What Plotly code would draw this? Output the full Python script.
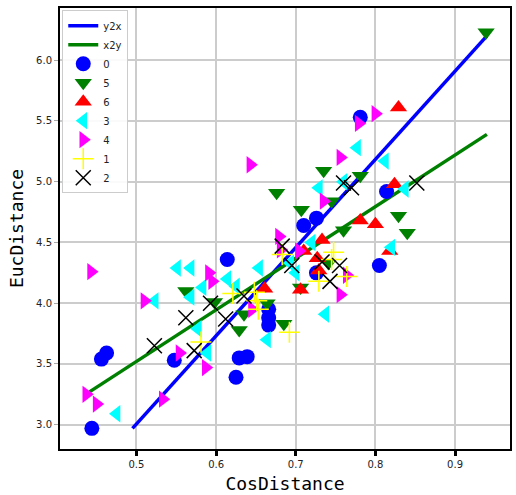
import plotly.graph_objects as go

# regression lines (endpoints)
y2x_x = [0.495, 0.940]
y2x_y = [2.97, 6.20]
x2y_x = [0.441, 0.940]
x2y_y = [3.27, 5.39]

s0_x = [0.444, 0.456, 0.4625, 0.5475, 0.614, 0.625, 0.629, 0.639, 0.666, 0.666, 0.666, 0.710, 0.726, 0.726, 0.781, 0.814, 0.805]
s0_y = [2.97, 3.54, 3.59, 3.53, 4.36, 3.39, 3.55, 3.56, 3.95, 3.88, 3.82, 4.64, 4.70, 4.25, 5.53, 4.92, 4.31]

s5_x = [0.562, 0.598, 0.635, 0.629, 0.664, 0.685, 0.706, 0.741, 0.760, 0.676, 0.707, 0.735, 0.745, 0.781, 0.829, 0.840, 0.939]
s5_y = [4.10, 4.01, 3.91, 3.78, 4.00, 3.83, 4.13, 4.33, 4.60, 4.91, 4.77, 5.09, 4.84, 5.05, 4.72, 4.58, 6.23]

s6_x = [0.661, 0.706, 0.710, 0.727, 0.733, 0.729, 0.781, 0.800, 0.818, 0.824, 0.829]
s6_y = [4.12, 4.11, 4.43, 4.37, 4.52, 4.27, 4.68, 4.65, 4.43, 4.98, 5.61]

s3_x = [0.475, 0.523, 0.551, 0.568, 0.568, 0.583, 0.577, 0.589, 0.614, 0.625, 0.654, 0.664, 0.737, 0.693, 0.700, 0.720, 0.729, 0.760, 0.777, 0.812, 0.837, 0.820]
s3_y = [3.09, 4.02, 4.29, 4.29, 4.05, 4.13, 3.79, 3.59, 4.20, 4.14, 4.29, 3.70, 3.91, 4.33, 4.25, 4.50, 4.95, 5.00, 5.28, 5.17, 4.94, 4.46]

s4_x = [0.443, 0.510, 0.437, 0.450, 0.533, 0.554, 0.587, 0.591, 0.595, 0.645, 0.643, 0.679, 0.681, 0.704, 0.735, 0.756, 0.779, 0.800, 0.756, 0.764]
s4_y = [4.26, 4.02, 3.25, 3.17, 3.21, 3.59, 3.47, 4.25, 4.18, 3.95, 5.14, 4.55, 4.44, 4.43, 4.84, 5.20, 5.48, 5.56, 4.07, 4.23]

s1_x = [0.581, 0.621, 0.648, 0.651, 0.653, 0.692, 0.683, 0.729, 0.7475, 0.764, 0.745]
s1_y = [3.68, 4.08, 4.09, 4.02, 3.95, 3.76, 4.40, 4.18, 4.42, 4.22, 4.36]

s2_x = [0.5225, 0.562, 0.5725, 0.593, 0.612, 0.635, 0.683, 0.695, 0.733, 0.743, 0.755, 0.760, 0.770, 0.852]
s2_y = [3.65, 3.88, 3.61, 4.00, 3.87, 4.06, 4.47, 4.31, 4.34, 4.18, 4.31, 4.99, 4.95, 4.99]

x_ticks = [0.5, 0.6, 0.7, 0.8, 0.9]
y_ticks = [3.0, 3.5, 4.0, 4.5, 5.0, 5.5, 6.0]

fig = go.Figure()
fig.add_trace(go.Scatter(x=y2x_x, y=y2x_y, mode="lines", name="y2x", line=dict(color="blue", width=3.5)))
fig.add_trace(go.Scatter(x=x2y_x, y=x2y_y, mode="lines", name="x2y", line=dict(color="green", width=3.5)))

specs = [
    ("0", s0_x, s0_y, dict(symbol="circle", color="blue", size=15)),
    ("5", s5_x, s5_y, dict(symbol="triangle-down", color="green", size=15)),
    ("6", s6_x, s6_y, dict(symbol="triangle-up", color="red", size=15)),
    ("3", s3_x, s3_y, dict(symbol="triangle-left", color="cyan", size=15)),
    ("4", s4_x, s4_y, dict(symbol="triangle-right", color="magenta", size=15)),
    ("1", s1_x, s1_y, dict(symbol="cross-thin", color="yellow", size=15, line=dict(color="yellow", width=1.5))),
    ("2", s2_x, s2_y, dict(symbol="x-thin", color="black", size=15, line=dict(color="black", width=1.5))),
]
for name, xs, ys, mk in specs:
    fig.add_trace(go.Scatter(x=xs, y=ys, mode="markers", name=name, marker=mk))

fig.update_layout(
    width=516, height=495,
    margin=dict(l=60, r=4, t=8, b=45),
    paper_bgcolor="white", plot_bgcolor="white",
    font=dict(family="DejaVu Sans", size=10, color="#222"),
    showlegend=True,
    legend=dict(x=0.005, y=0.995, xanchor="left", yanchor="top",
                bgcolor="rgba(255,255,255,0.9)", bordercolor="#cccccc", borderwidth=1,
                font=dict(size=10), tracegroupgap=0, itemwidth=30),
    xaxis=dict(range=[0.404, 0.969], tickvals=x_ticks, ticktext=[f"{v:.1f}" for v in x_ticks],
               showgrid=True, gridcolor="#cccccc", gridwidth=1.5, zeroline=False,
               showline=True, linecolor="black", linewidth=2, mirror=True,
               ticks="outside", ticklen=5, tickwidth=3, tickcolor="black",
               title=dict(text="CosDistance", font=dict(family="DejaVu Sans Mono", size=18, color="black"), standoff=8)),
    yaxis=dict(range=[2.80, 6.43], tickvals=y_ticks, ticktext=[f"{v:.1f}" for v in y_ticks],
               showgrid=True, gridcolor="#cccccc", gridwidth=1.5, zeroline=False,
               showline=True, linecolor="black", linewidth=2, mirror=True,
               ticks="outside", ticklen=4, tickwidth=1, tickcolor="#aaaaaa",
               title=dict(text="EucDistance", font=dict(family="DejaVu Sans Mono", size=18, color="black"), standoff=8)),
)

fig.write_html("out.html")
